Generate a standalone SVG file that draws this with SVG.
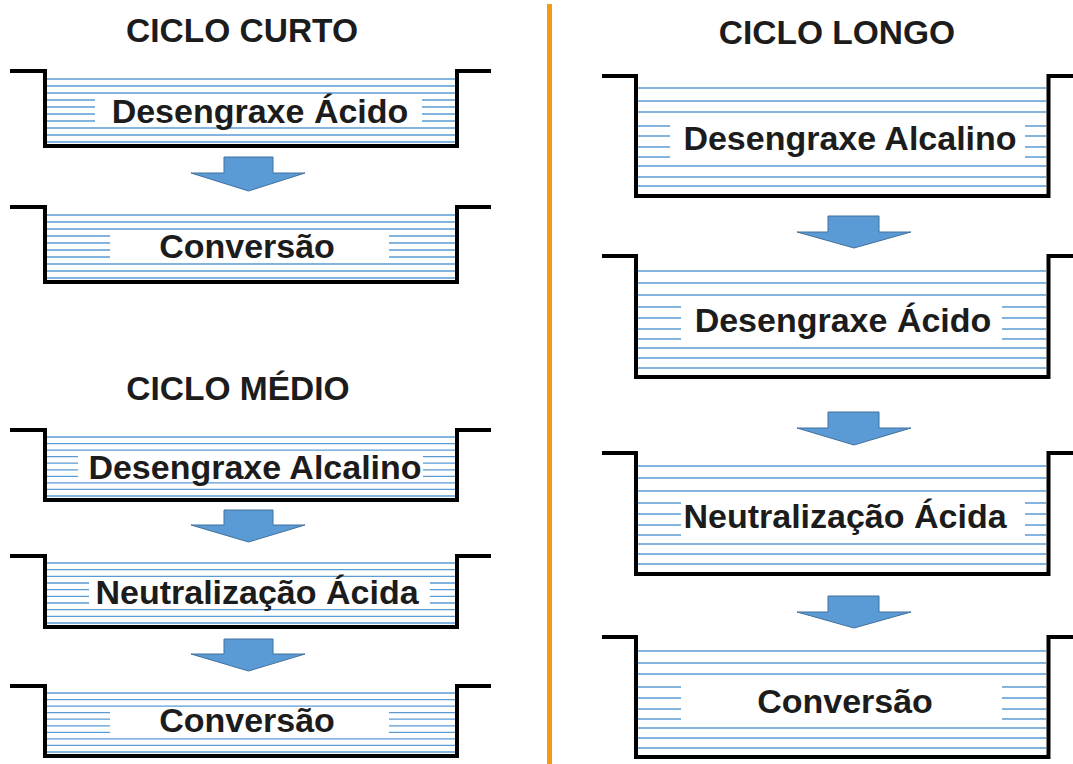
<svg xmlns="http://www.w3.org/2000/svg" width="1073" height="764" viewBox="0 0 1073 764">
<style>
.tank{fill:none;stroke:#000;stroke-width:4;stroke-linejoin:miter}
.w{fill:none;stroke:#5b9bd5;stroke-width:1.3}
.lbl{font-family:"Liberation Sans",Arial,sans-serif;font-weight:bold;font-size:34px;fill:#1c1c1c;text-anchor:middle}
.ttl{font-family:"Liberation Sans",Arial,sans-serif;font-weight:bold;font-size:33.5px;fill:#1c1c1c;text-anchor:middle}
.arr{fill:#5b9bd5;stroke:#41719c;stroke-width:1}
</style>
<rect width="1073" height="764" fill="#fff"/>
<line x1="549.5" y1="4" x2="549.5" y2="764" stroke="#f39c12" stroke-width="5"/>
<text class="ttl" x="242" y="42">CICLO CURTO</text>
<text class="ttl" x="238" y="400">CICLO MÉDIO</text>
<text class="ttl" x="837" y="44">CICLO LONGO</text>

<g id="curto-desengraxe-acido">
<path class="w" d="M47 79H455M47 86H455M47 93H455M47 100H95M422 100H455M47 107H95M422 107H455M47 114H95M422 114H455M47 121H95M422 121H455M47 128H455M47 135H455M47 142H455"/>
<path class="tank" d="M10 71H45V146H457V71H491"/>
<text class="lbl" x="260" y="123">Desengraxe Ácido</text>
</g>
<g id="curto-conversao">
<path class="w" d="M47 215H455M47 222H455M47 229H455M47 236H110M389 236H455M47 243H110M389 243H455M47 250H110M389 250H455M47 257H110M389 257H455M47 264H455M47 271H455M47 278H455"/>
<path class="tank" d="M10 207H45V282H457V207H491"/>
<text class="lbl" x="247" y="258">Conversão</text>
</g>
<g id="medio-desengraxe-alcalino">
<path class="w" d="M47 437H455M47 443.6H455M47 450.1H455M47 456.7H78M423 456.7H455M47 463.2H78M423 463.2H455M47 469.8H78M423 469.8H455M47 476.3H78M423 476.3H455M47 482.9H455M47 489.4H455M47 496H455"/>
<path class="tank" d="M10 430H45V500H457V430H491"/>
<text class="lbl" x="255" y="479">Desengraxe Alcalino</text>
</g>
<g id="medio-neutralizacao">
<path class="w" d="M47 563H455M47 569.7H455M47 576.3H455M47 583H89M430 583H455M47 589.7H89M430 589.7H455M47 596.3H89M430 596.3H455M47 603H89M430 603H455M47 609.7H455M47 616.3H455M47 623H455"/>
<path class="tank" d="M10 556H45V627H457V556H491"/>
<text class="lbl" x="257" y="604">Neutralização Ácida</text>
</g>
<g id="medio-conversao">
<path class="w" d="M47 693H455M47 699.6H455M47 706.1H455M47 712.7H110M389 712.7H455M47 719.2H110M389 719.2H455M47 725.8H110M389 725.8H455M47 732.3H110M389 732.3H455M47 738.9H455M47 745.4H455M47 752H455"/>
<path class="tank" d="M10 686H45V756H457V686H491"/>
<text class="lbl" x="247" y="732">Conversão</text>
</g>

<g id="longo-desengraxe-alcalino">
<path class="w" d="M638 88H1046M638 101H1046M638 112H1046M638 126H670M1025 126H1046M638 136H670M1025 136H1046M638 147H670M1025 147H1046M638 157H670M1025 157H1046M638 166H1046M638 177H1046M638 186H1046"/>
<path class="tank" d="M602 76H636V196H1048.5V76H1073"/>
<text class="lbl" x="850" y="150">Desengraxe Alcalino</text>
</g>
<g id="longo-desengraxe-acido">
<path class="w" d="M638 271H1046M638 283H1046M638 295H1046M638 307H681M1002 307H1046M638 318H681M1002 318H1046M638 329H681M1002 329H1046M638 339H681M1002 339H1046M638 348H1046M638 358H1046M638 368H1046"/>
<path class="tank" d="M602 256H636V377H1048.5V256H1073"/>
<text class="lbl" x="843" y="332">Desengraxe Ácido</text>
</g>
<g id="longo-neutralizacao">
<path class="w" d="M638 466H1046M638 478H1046M638 491H1046M638 503H681M1025 503H1046M638 514H681M1025 514H1046M638 525H681M1025 525H1046M638 535H681M1025 535H1046M638 544H1046M638 554H1046M638 564H1046"/>
<path class="tank" d="M602 453H636V574H1048.5V453H1073"/>
<text class="lbl" x="845" y="528">Neutralização Ácida</text>
</g>
<g id="longo-conversao">
<path class="w" d="M638 651H1046M638 663H1046M638 674H1046M638 687H681M1002 687H1046M638 698H681M1002 698H1046M638 709H681M1002 709H1046M638 719H681M1002 719H1046M638 728H1046M638 738H1046M638 748H1046"/>
<path class="tank" d="M602 637H636V757H1048.5V637H1073"/>
<text class="lbl" x="845" y="713">Conversão</text>
</g>

<g id="connectors">
<path class="arr" d="M224 157H273V173H305L248.5 191L191 173H224Z"/>
<path class="arr" d="M224 510H273V525H305L248.5 542L191 525H224Z"/>
<path class="arr" d="M224 639H273V654H305L248.5 671L191 654H224Z"/>
<path class="arr" d="M828 216H879V232H911L854 248L797 232H828Z"/>
<path class="arr" d="M828 412H879V428H911L854 445L797 428H828Z"/>
<path class="arr" d="M828 596H879V612H911L854 628L797 612H828Z"/>
</g>
</svg>
